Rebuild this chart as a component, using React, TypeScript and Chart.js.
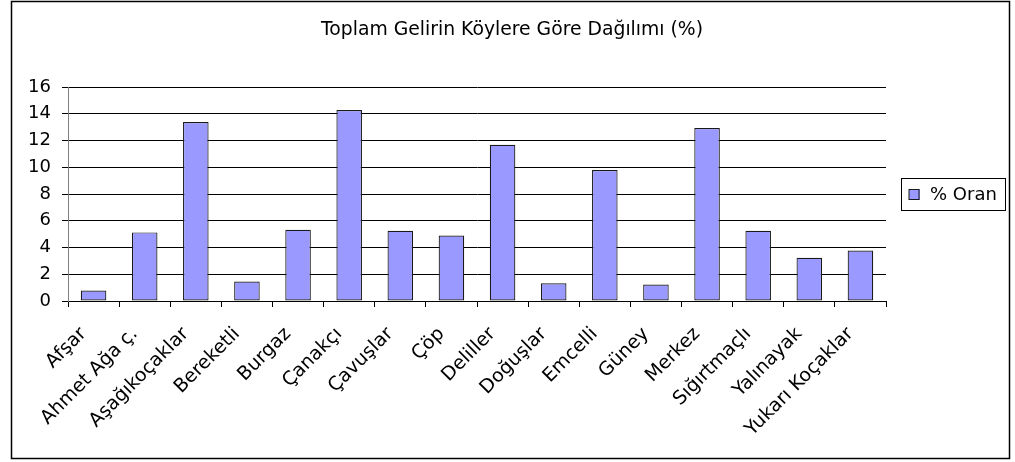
import React, { useEffect, useRef } from "react";
import { Chart, registerables } from "chart.js";

Chart.register(...registerables);

const TITLE = "Toplam Gelirin Köylere Göre Dağılımı (%)";
const SERIES_LABEL = "% Oran";
const CATEGORIES = [
  "Afşar",
  "Ahmet Ağa ç.",
  "Aşağıkoçaklar",
  "Bereketli",
  "Burgaz",
  "Çanakçı",
  "Çavuşlar",
  "Çöp",
  "Deliller",
  "Doğuşlar",
  "Emcelli",
  "Güney",
  "Merkez",
  "Sığırtmaçlı",
  "Yalınayak",
  "Yukarı Koçaklar",
];
const VALUES = [0.78, 5.13, 13.38, 1.45, 5.33, 14.28, 5.25, 4.9, 11.68, 1.33, 9.8, 1.23, 12.93, 5.25, 3.23, 3.78];
const Y_MIN = 0;
const Y_MAX = 16;
const Y_STEP = 2;

const FONT_FAMILY = "'DejaVu Sans', sans-serif";
const BAR_COLOR = "#9999FF";
const BAR_BORDER = "#1a1a1a";

const decorPlugin = {
  id: "decor",
  beforeDraw(chart: any) {
    const { ctx, width, height } = chart;
    ctx.save();
    ctx.fillStyle = "#ffffff";
    ctx.fillRect(0, 0, width, height);
    ctx.restore();
  },
  afterDraw(chart: any) {
    const { ctx, chartArea } = chart;
    ctx.save();
    // outer frame
    ctx.strokeStyle = "#000";
    ctx.lineWidth = 1.5;
    ctx.strokeRect(11.5, 1.5, 998, 457);

    // title
    ctx.fillStyle = "#000";
    ctx.font = `18.8px ${FONT_FAMILY}`;
    ctx.textAlign = "center";
    ctx.textBaseline = "alphabetic";
    ctx.fillText(TITLE, 512, 35);

    // legend
    const label = chart.data.datasets[0].label as string;
    ctx.font = `18px ${FONT_FAMILY}`;
    const tw = ctx.measureText(label).width;
    const bx = Math.round(chartArea.right + 15) + 0.5;
    const bh = 32;
    const bw = Math.round(8 + 11 + 10 + tw + 8);
    const cy = (chartArea.top + chartArea.bottom) / 2;
    const by = Math.round(cy - bh / 2) + 0.5;
    ctx.strokeStyle = "#000";
    ctx.lineWidth = 1;
    ctx.strokeRect(bx, by, bw, bh);
    ctx.fillStyle = BAR_COLOR;
    ctx.fillRect(bx + 7.5, Math.round(cy) - 5, 11, 11);
    ctx.strokeStyle = BAR_BORDER;
    ctx.strokeRect(bx + 7.5, Math.round(cy) - 5 + 0.5, 10, 10);
    ctx.fillStyle = "#000";
    ctx.textAlign = "left";
    ctx.textBaseline = "middle";
    ctx.fillText(label, bx + 28.5, cy + 1);
    ctx.restore();
  },
};

export default function App() {
  const canvasRef = useRef<HTMLCanvasElement | null>(null);

  useEffect(() => {
    if (!canvasRef.current) return;
    Chart.defaults.font.family = FONT_FAMILY;
    const chart = new Chart(canvasRef.current, {
      type: "bar",
      data: {
        labels: CATEGORIES,
        datasets: [
          {
            label: SERIES_LABEL,
            data: VALUES,
            backgroundColor: BAR_COLOR,
            borderColor: BAR_BORDER,
            borderWidth: 1.2,
            borderSkipped: false,
            barPercentage: 0.5,
            categoryPercentage: 1.0,
          },
        ],
      },
      options: {
        responsive: false,
        animation: false,
        devicePixelRatio: 1,
        layout: { padding: { left: 11, right: 129, top: 87, bottom: 3 } },
        plugins: {
          legend: { display: false },
          title: { display: false },
          tooltip: { enabled: false },
        },
        scales: {
          x: {
            afterFit: (s: any) => {
              s.height = 158;
            },
            ticks: {
              autoSkip: false,
              minRotation: 45,
              maxRotation: 45,
              color: "#000",
              font: { size: 19 },
              padding: 16,
              labelOffset: -10,
            },
            grid: {
              offset: true,
              drawOnChartArea: false,
              drawTicks: true,
              tickLength: 6,
              color: "#000",
            },
            border: { color: "#000", width: 1 },
          },
          y: {
            min: Y_MIN,
            max: Y_MAX,
            afterFit: (s: any) => {
              s.width = 57;
            },
            ticks: {
              stepSize: Y_STEP,
              color: "#000",
              font: { size: 18 },
              padding: 11,
            },
            grid: {
              color: "#000",
              lineWidth: 1,
              drawTicks: true,
              tickLength: 6,
            },
            border: { color: "#808080", width: 1 },
          },
        },
      },
      plugins: [decorPlugin],
    });
    return () => chart.destroy();
  }, []);

  return (
    <div style={{ position: "fixed", left: 0, top: 0, width: 1015, height: 462, background: "#fff" }}>
      <canvas ref={canvasRef} width={1015} height={462} style={{ display: "block" }} />
    </div>
  );
}
